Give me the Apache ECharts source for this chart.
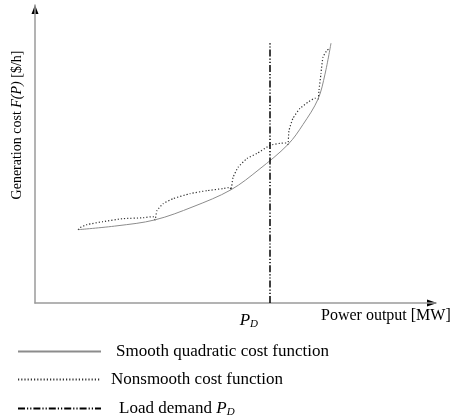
<!DOCTYPE html>
<html><head><meta charset="utf-8">
<script src="https://cdn.jsdelivr.net/npm/echarts@6/dist/echarts.min.js"></script>
<style>html,body{margin:0;padding:0;background:#fff}#c{width:458px;height:420px}</style>
</head><body><div id="c"></div>
<script>
// Smooth quadratic cost curve (power, cost) in arbitrary units
var smoothP = [10.75, 20.5, 30, 39.5, 49, 56, 63.25, 67, 70.75, 72.5, 74];
var smoothF = [24.6, 25.9, 27.9, 32.3, 38.0, 44.8, 53.2, 59.9, 68.4, 76.8, 87.2];
// Nonsmooth (valve-point) cost curve
var nonsmoothP = [10.75, 11.25, 13, 17, 22, 27, 29.5, 30,
  30.5, 32, 34.5, 38.75, 43, 47, 48.75, 49,
  49.5, 50.75, 53, 55.5, 58.75, 61.25, 63, 63.25,
  63.5, 64.5, 66.25, 68.25, 70.0, 70.75,
  71, 71.5, 72, 73, 73.75];
var nonsmoothF = [24.6, 25.3, 26.3, 27.3, 28.3, 28.6, 29.0, 27.9,
  31.0, 33.3, 35.0, 36.7, 37.7, 38.4, 38.8, 38.0,
  42.1, 45.5, 48.5, 50.2, 52.9, 53.6, 53.7, 53.2,
  57.9, 62.0, 65.3, 67.4, 68.7, 68.4,
  71.4, 77.1, 82.5, 84.8, 85.5];
// Load demand
var loadDemand = 58.75;
var loadLineTop = 87.5;
var seriesNames = ['Smooth quadratic cost function', 'Nonsmooth cost function', 'Load demand PD'];
var seriesColors = ['#8c8c8c', '#333333', '#000000'];

function zip(a, b) { return a.map(function (v, i) { return [v, b[i]]; }); }

var FONT = 'Liberation Serif';
var FS = 17;
var richText = {
  n: { fontFamily: FONT, fontSize: FS, color: '#000' },
  i: { fontFamily: FONT, fontStyle: 'italic', fontSize: FS, color: '#000' },
  s: { fontFamily: FONT, fontStyle: 'italic', fontSize: 11, color: '#000', verticalAlign: 'bottom', padding: [7, 0, 0, 0] }
};
function legendOf(idx, top, pad) {
  return {
    orient: 'vertical', left: 12, top: top, itemWidth: 83, itemHeight: 14,
    data: [seriesNames[idx]],
    itemStyle: { opacity: 0 },
    formatter: function (n) {
      if (n === 'Load demand PD') return '{n|Load demand }{i|P}{s|D}';
      return '{n|' + n + '}';
    },
    textStyle: { padding: [0, 0, 0, pad], rich: richText }
  };
}

var chart = echarts.init(document.getElementById('c'));
chart.setOption({
  animation: false,
  grid: { left: 35, right: 23, top: 5, bottom: 117, containLabel: false, outerBoundsMode: 'none' },
  xAxis: {
    type: 'value', min: 0, max: 100,
    axisLine: { show: true, lineStyle: { color: '#9a9a9a', width: 1.5 } },
    axisTick: { show: false },
    splitLine: { show: false },
    axisLabel: {
      show: true, customValues: [loadDemand], margin: 9, align: 'right', padding: [0, 12, 0, 0],
      formatter: function () { return '{i|P}{s|D}'; },
      rich: richText
    },
    name: 'Power output [MW]', nameLocation: 'end', nameGap: -114,
    nameTextStyle: { fontFamily: FONT, fontSize: 16, color: '#000', align: 'left', verticalAlign: 'top', padding: [5, 0, 0, 0] }
  },
  yAxis: {
    type: 'value', min: 0, max: 100,
    axisLine: { show: true, lineStyle: { color: '#9a9a9a', width: 1.5 } },
    axisTick: { show: false }, axisLabel: { show: false }, splitLine: { show: false }
  },
  legend: [legendOf(0, 338, 10), legendOf(1, 366, 5), legendOf(2, 395, 13)],
  series: [
    { name: seriesNames[0], type: 'line', data: zip(smoothP, smoothF), symbol: 'none', smooth: 0.35,
      itemStyle: { color: seriesColors[0] },
      lineStyle: { color: seriesColors[0], width: 1 } },
    { name: seriesNames[1], type: 'line', data: zip(nonsmoothP, nonsmoothF), symbol: 'none', smooth: 0.15,
      itemStyle: { color: seriesColors[1] },
      lineStyle: { color: seriesColors[1], width: 1.2, type: [1.2, 2] } },
    { name: seriesNames[2], type: 'line', data: [[loadDemand, 0], [loadDemand, loadLineTop]], symbol: 'none',
      itemStyle: { color: seriesColors[2] },
      lineStyle: { color: seriesColors[2], width: 1.5, type: [7, 2, 1.2, 2, 1.2, 2] } }
  ],
  graphic: [
    { type: 'polygon', shape: { points: [[35, 5], [31.5, 14], [38.5, 14]] }, style: { fill: '#000' } },
    { type: 'polygon', shape: { points: [[437, 303], [427, 299.5], [427, 306.5]] }, style: { fill: '#000' } },
    { type: 'rect', shape: { x: 32, y: 216, width: 6, height: 4 }, style: { fill: '#fff' } },
    { type: 'text', x: 10, y: 125, rotation: Math.PI / 2,
      style: { text: '{n|Generation cost }{i|F(P)}{n| [$/h]}', align: 'center', verticalAlign: 'top',
        rich: {
          n: { fontFamily: FONT, fontSize: 14, fill: '#000' },
          i: { fontFamily: FONT, fontStyle: 'italic', fontSize: 14, fill: '#000' }
        } } }
  ]
});
</script></body></html>
